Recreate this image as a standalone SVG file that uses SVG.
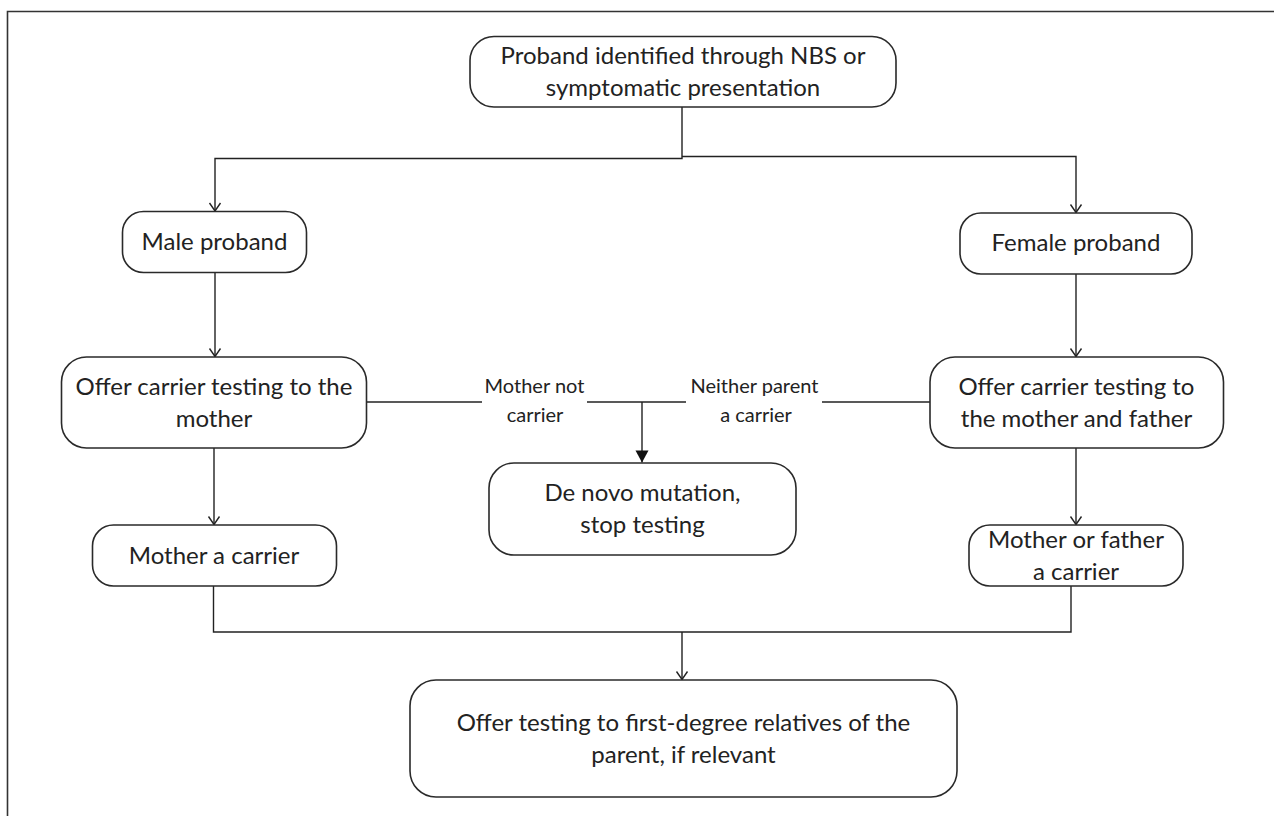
<svg xmlns="http://www.w3.org/2000/svg" width="1274" height="816" viewBox="0 0 1274 816">
<defs>
<style>
.node rect{fill:#fff;stroke:#2a2a2a;stroke-width:1.6}
.node text{font-family:Lato,"Open Sans","Liberation Sans",sans-serif;font-size:24px;fill:#222;text-anchor:middle}
.lbl{font-family:Lato,"Open Sans","Liberation Sans",sans-serif;font-size:20px;fill:#222;text-anchor:middle}
.conn path{fill:none;stroke:#222;stroke-width:1.4}
.frame{fill:none;stroke:#333;stroke-width:1.6}
</style>
<marker id="open" markerUnits="userSpaceOnUse" markerWidth="16" markerHeight="16" viewBox="-8 -8 10 16" refX="0" refY="0" orient="auto">
<path d="M-8,-5.5 L0,0 L-8,5.5" fill="none" stroke="#222" stroke-width="1.4"/>
</marker>
<marker id="filled" markerUnits="userSpaceOnUse" markerWidth="16" markerHeight="16" viewBox="-13 -8 14 16" refX="0" refY="0" orient="auto">
<path d="M-12,-6.5 L0,0 L-12,6.5 Z" fill="#111" stroke="none"/>
</marker>
</defs>
<rect width="1274" height="816" fill="#fff"/>
<path class="frame" d="M7.5,816 V11.5 H1274"/>

<g id="connectors" class="conn">
<path d="M682,107 V158.5 H215 V211" marker-end="url(#open)"/>
<path d="M682,156.5 H1076 V212.5" marker-end="url(#open)"/>
<path d="M215,273 V356.5" marker-end="url(#open)"/>
<path d="M1076,274 V356.5" marker-end="url(#open)"/>
<path d="M214,448 V524.5" marker-end="url(#open)"/>
<path d="M1076,448 V524.5" marker-end="url(#open)"/>
<path d="M367,402 H482"/>
<path d="M587,402 H686"/>
<path d="M822,402 H930"/>
<path d="M642,402 V462.5" marker-end="url(#filled)"/>
<path d="M213.5,586 V632 H1071 V581"/>
<path d="M682,632 V679.5" marker-end="url(#open)"/>
<text class="lbl" x="534.5" y="393">Mother not</text>
<text class="lbl" x="535" y="422">carrier</text>
<text class="lbl" x="754.5" y="393">Neither parent</text>
<text class="lbl" x="756" y="422">a carrier</text>
</g>

<g id="n-proband" class="node">
<rect x="470" y="36.5" width="426" height="70.5" rx="24"/>
<text x="683" y="64">Proband identified through NBS or</text>
<text x="683" y="96">symptomatic presentation</text>
</g>
<g id="n-male" class="node">
<rect x="122.5" y="211.5" width="184" height="61" rx="21"/>
<text x="214.5" y="250">Male proband</text>
</g>
<g id="n-female" class="node">
<rect x="960" y="213" width="232" height="61" rx="21"/>
<text x="1076" y="251">Female proband</text>
</g>
<g id="n-offer-mother" class="node">
<rect x="61.5" y="357" width="305" height="91" rx="25"/>
<text x="214" y="394.5">Offer carrier testing to the</text>
<text x="214" y="426.5">mother</text>
</g>
<g id="n-offer-both" class="node">
<rect x="930" y="357" width="293.5" height="91" rx="25"/>
<text x="1076.5" y="394.5">Offer carrier testing to</text>
<text x="1076.5" y="426.5">the mother and father</text>
</g>
<g id="n-denovo" class="node">
<rect x="489" y="463" width="307" height="92" rx="25"/>
<text x="642.5" y="501">De novo mutation,</text>
<text x="642.5" y="533">stop testing</text>
</g>
<g id="n-mother-carrier" class="node">
<rect x="92.5" y="525" width="244" height="61" rx="21"/>
<text x="214" y="563.5">Mother a carrier</text>
</g>
<g id="n-either-carrier" class="node">
<rect x="969" y="525" width="214" height="61" rx="21"/>
<text x="1076" y="547.5">Mother or father</text>
<text x="1076" y="579.5">a carrier</text>
</g>
<g id="n-relatives" class="node">
<rect x="410" y="680" width="547" height="117" rx="26"/>
<text x="683.5" y="730.5">Offer testing to first-degree relatives of the</text>
<text x="683.5" y="762.5">parent, if relevant</text>
</g>
</svg>
